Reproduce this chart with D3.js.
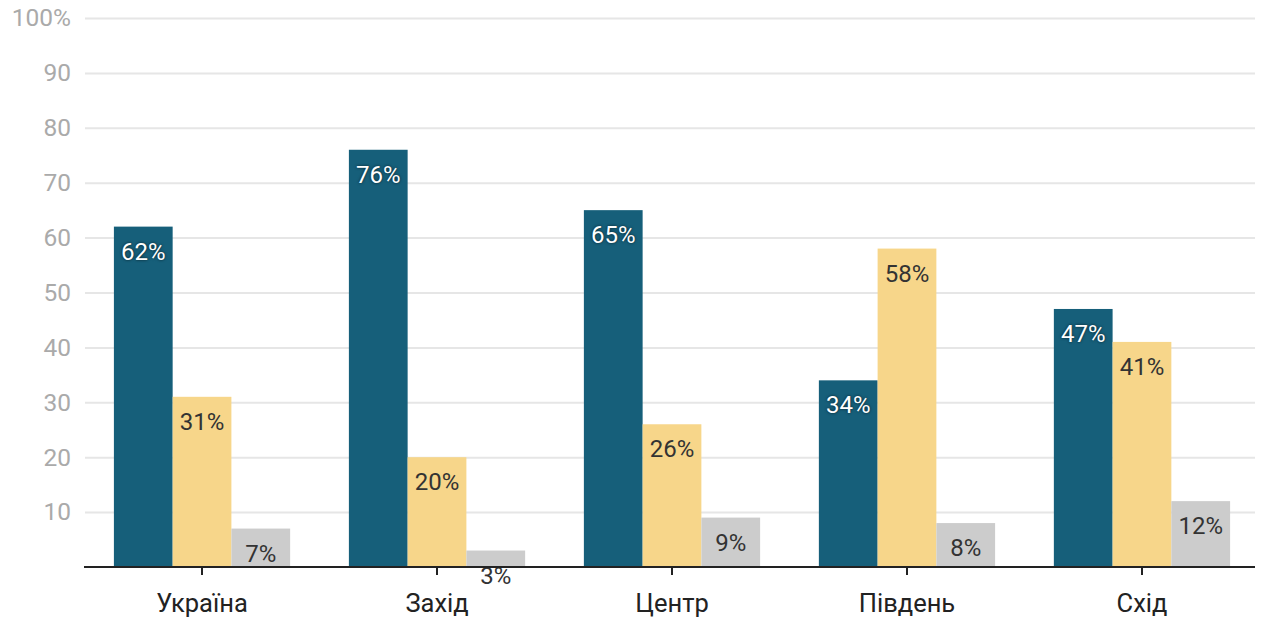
<!DOCTYPE html>
<html>
<head>
<meta charset="utf-8">
<script src="https://cdn.jsdelivr.net/npm/d3@7"></script>
<style>
  body { margin: 0; background: #fff; }
  svg { font-family: Roboto, "Noto Sans", sans-serif; }
  .barLabel { font-size: 24px; text-anchor: middle; }
  .onDark { fill: #fff; text-shadow: 0 0 3px rgba(0,0,0,0.7); }
  .onLight { fill: #333; }
</style>
</head>
<body>
<div id="chart"></div>
<script>
// Data
// ==============================
var regions = ["Україна", "Захід", "Центр", "Південь", "Схід"];
var seriesKeys = ["a", "b", "c"];
var seriesA = [62, 76, 65, 34, 47];
var seriesB = [31, 20, 26, 58, 41];
var seriesC = [7, 3, 9, 8, 12];
var yTicks = [10, 20, 30, 40, 50, 60, 70, 80, 90, 100];

var colors = { a: "#165f7a", b: "#f7d68a", c: "#cccccc" };

// Chart area
// ==============================
var svgWidth = 1263;
var svgHeight = 619;
var margin = { top: 18, right: 4, bottom: 52, left: 85 };
var width = svgWidth - margin.left - margin.right;
var height = svgHeight - margin.top - margin.bottom;
var gridWidth = 1170;

var svg = d3.select("#chart")
  .append("svg")
  .attr("width", svgWidth)
  .attr("height", svgHeight);

var chartGroup = svg.append("g")
  .attr("transform", `translate(${margin.left}, ${margin.top})`);

var rows = regions.map(function(r, i) {
  return { region: r, a: seriesA[i], b: seriesB[i], c: seriesC[i] };
});

// Scales
var xScale = d3.scaleBand()
  .domain(regions)
  .range([0, width])
  .paddingInner(0.25)
  .paddingOuter(0.123);

var xInner = d3.scaleBand()
  .domain(seriesKeys)
  .range([0, xScale.bandwidth()]);

var yScale = d3.scaleLinear()
  .domain([0, 100])
  .range([height, 0]);

// Gridlines + y labels
var yAxis = d3.axisLeft(yScale)
  .tickValues(yTicks)
  .tickSize(-gridWidth)
  .tickPadding(14)
  .tickFormat(d => d === 100 ? "100%" : d);

var yG = chartGroup.append("g").call(yAxis);
yG.select(".domain").remove();
yG.selectAll(".tick line").attr("stroke", "#e6e6e6").attr("stroke-width", 2);
yG.selectAll(".tick text")
  .attr("fill", "#aaaaaa")
  .style("font-size", "24.5px")
  .style("font-family", "Roboto, sans-serif");

// Bars
var groups = chartGroup.selectAll(".group")
  .data(rows)
  .enter()
  .append("g")
  .attr("class", "group")
  .attr("transform", d => `translate(${xScale(d.region)}, 0)`);

groups.selectAll("rect")
  .data(d => seriesKeys.map(k => ({ key: k, value: d[k] })))
  .enter()
  .append("rect")
  .attr("x", d => xInner(d.key))
  .attr("y", d => yScale(d.value))
  .attr("width", xInner.bandwidth())
  .attr("height", d => height - yScale(d.value))
  .attr("fill", d => colors[d.key]);

groups.selectAll("text")
  .data(d => seriesKeys.map(k => ({ key: k, value: d[k] })))
  .enter()
  .append("text")
  .attr("class", d => "barLabel " + (d.key === "a" ? "onDark" : "onLight"))
  .attr("x", d => xInner(d.key) + xInner.bandwidth() / 2)
  .attr("y", d => yScale(d.value) + 33)
  .text(d => d.value + "%");

// X axis
var xAxis = d3.axisBottom(xScale).tickSize(8).tickPadding(19);
var xG = chartGroup.append("g")
  .attr("transform", `translate(0, ${height})`)
  .call(xAxis);
xG.select(".domain")
  .attr("stroke", "#222")
  .attr("stroke-width", 2)
  .attr("d", `M-1,0H${gridWidth}`);
xG.selectAll(".tick line").attr("stroke", "#222").attr("stroke-width", 2);
xG.selectAll(".tick text")
  .attr("fill", "#222")
  .style("font-size", "25.5px")
  .style("font-family", "Roboto, sans-serif");
</script>
</body>
</html>
